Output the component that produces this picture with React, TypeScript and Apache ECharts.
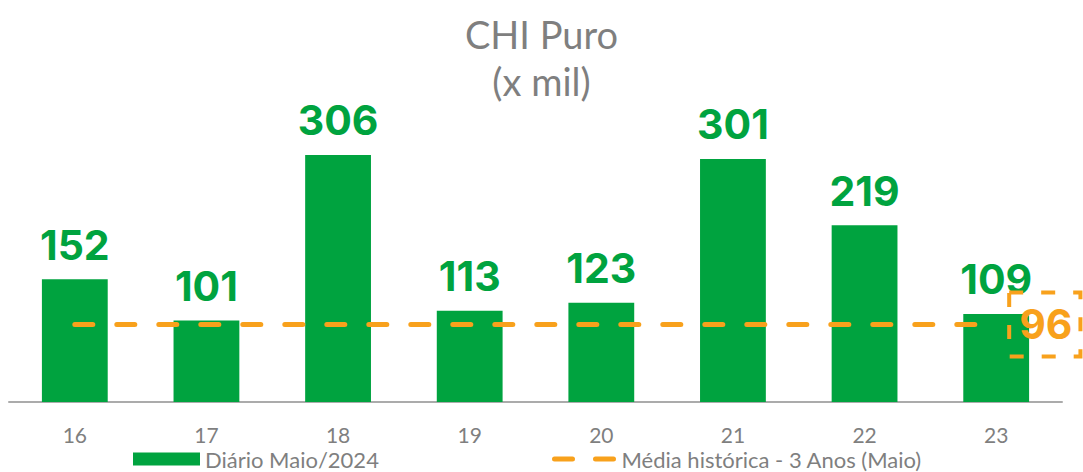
import React, { useEffect, useRef } from "react";
import * as echarts from "echarts";

const categories = ["16", "17", "18", "19", "20", "21", "22", "23"];
const dailyValues = [152, 101, 306, 113, 123, 301, 219, 109];
const historicalAvg = [96, 96, 96, 96, 96, 96, 96, 96];
const titleLines = ["CHI Puro", "(x mil)"];
const barName = "Diário Maio/2024";
const lineName = "Média histórica - 3 Anos (Maio)";

const GREEN = "#00A33F";
const ORANGE = "#F8A11C";
const GRAY = "#7F7F7F";
const FONT = "Lato, 'Noto Sans', sans-serif";
const BOLD_FONT = "Inter, Lato, sans-serif";
const DASH_ICON =
  "path://M2.5,0 h18 a2.5,2.5 0 0 1 0,5 h-18 a2.5,2.5 0 0 1 0,-5z M43.5,0 h18 a2.5,2.5 0 0 1 0,5 h-18 a2.5,2.5 0 0 1 0,-5z";

export default function App() {
  const ref = useRef<HTMLDivElement>(null);
  useEffect(() => {
    document.body.style.margin = "0";
    const chart = echarts.init(ref.current!, null, { renderer: "svg" });
    chart.setOption({
      animation: false,
      backgroundColor: "#ffffff",
      textStyle: { fontFamily: FONT },
      title: {
        text: titleLines.join("\n"),
        left: "center",
        top: 5,
        textStyle: {
          fontSize: 38,
          lineHeight: 47,
          fontWeight: "normal",
          color: GRAY,
          fontFamily: FONT,
        },
      },
      legend: [
        {
          left: 133,
          top: 448,
          padding: 0,
          itemWidth: 67,
          itemHeight: 13,
          itemGap: 8,
          data: [{ name: barName, icon: "rect" }],
          textStyle: { fontSize: 22, lineHeight: 22, color: GRAY, fontFamily: FONT },
        },
        {
          left: 552,
          top: 448,
          padding: 0,
          itemWidth: 65,
          itemHeight: 5,
          itemGap: 10,
          data: [{ name: lineName, icon: DASH_ICON, itemStyle: { color: ORANGE } }],
          textStyle: { fontSize: 22, lineHeight: 22, color: GRAY, fontFamily: FONT },
        },
      ],
      grid: { left: 9, right: 21, top: 79, bottom: 70, containLabel: false },
      xAxis: {
        type: "category",
        data: categories,
        axisLine: { show: true, lineStyle: { color: "#ABABAB", width: 2 } },
        axisTick: { show: false },
        axisLabel: { color: GRAY, fontSize: 21, lineHeight: 22, margin: 21, fontFamily: FONT },
      },
      yAxis: {
        type: "value",
        min: 0,
        max: 400,
        show: false,
        splitLine: { show: false },
      },
      series: [
        {
          name: barName,
          type: "bar",
          data: dailyValues,
          barWidth: "50%",
          itemStyle: { color: GREEN },
          label: {
            show: true,
            position: "top",
            distance: 14,
            color: GREEN,
            fontSize: 41,
            fontWeight: "bold",
            fontFamily: BOLD_FONT,
          },
        },
        {
          name: lineName,
          type: "line",
          data: historicalAvg,
          symbol: "none",
          z: 5,
          lineStyle: {
            color: ORANGE,
            width: 5,
            type: [18, 24],
            cap: "round",
          },
          itemStyle: { color: ORANGE },
          endLabel: {
            show: true,
            formatter: "96",
            distance: 13,
            color: ORANGE,
            fontSize: 41,
            fontWeight: "bold",
            fontFamily: BOLD_FONT,
            borderColor: ORANGE,
            borderWidth: 4,
            borderType: [14, 18],
            padding: [10, 8, 10, 10],
            lineHeight: 44,
          },
        },
      ],
    });
    return () => chart.dispose();
  }, []);
  return (
    <div
      ref={ref}
      style={{ position: "absolute", left: 0, top: 0, width: 1083, height: 472 }}
    />
  );
}
